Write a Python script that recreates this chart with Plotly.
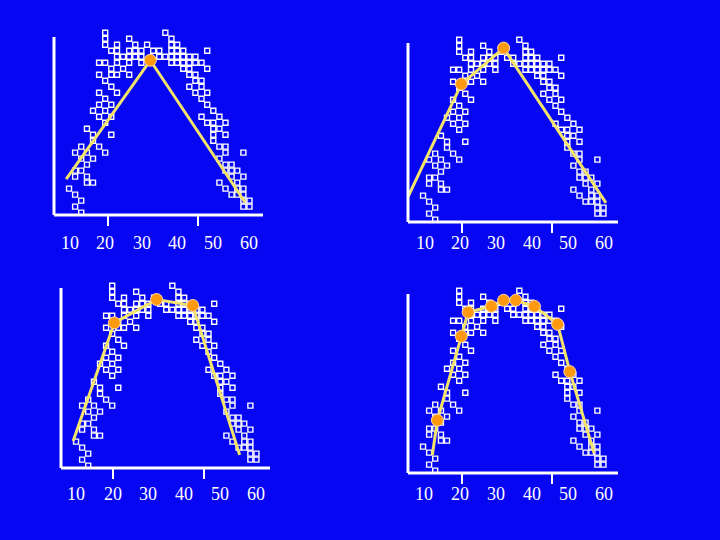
import plotly.graph_objects as go

# scatter data (age, response level) shared by all four panels
rows = {
    30: [19.8, 36.6],
    29: [19.8, 26.5, 38.3],
    28: [19.8, 23.1, 28.2, 31.5, 38.3, 39.9],
    27: [21.5, 23.1, 26.5, 28.2, 29.9, 33.2, 34.9, 38.3, 39.9, 41.6, 48.3],
    26: [23.1, 24.8, 26.5, 28.2, 29.9, 34.9, 36.6, 38.3, 39.9, 41.6, 43.3, 45.0],
    25: [18.1, 19.8, 23.1, 26.5, 29.9, 38.3, 39.9, 41.6, 43.3, 45.0, 46.7],
    24: [21.5, 24.8, 41.6, 43.3, 48.3],
    23: [18.1, 21.5, 23.1, 26.5, 43.3, 45.0],
    22: [19.8, 45.0, 46.7],
    21: [21.5, 43.3, 46.7],
    20: [18.1, 23.1, 45.0, 48.3],
    19: [19.8, 46.7],
    18: [18.1, 21.5, 48.3],
    17: [16.4, 19.8, 50.0],
    16: [18.1, 21.5, 46.7, 51.7],
    15: [19.8, 48.3, 50.0, 53.4],
    14: [14.7, 50.0, 51.7],
    13: [16.4, 21.5, 50.0, 53.4],
    12: [16.4, 50.0],
    11: [13.1, 18.1, 51.7, 53.4],
    10: [11.4, 14.7, 19.8, 53.4, 58.4],
    9: [13.1, 16.4, 51.7],
    8: [14.7, 53.4, 55.1],
    7: [11.4, 13.1, 53.4, 55.1, 56.7],
    6: [11.4, 14.7, 55.1, 58.4],
    5: [14.7, 16.4, 51.7, 56.7],
    4: [9.7, 53.4, 56.7, 58.4],
    3: [11.4, 55.1, 56.7, 58.4],
    2: [13.1, 58.4, 60.1],
    1: [11.4, 58.4, 60.1],
    0: [13.1],
}
point_x = [x for r, xs in rows.items() for x in xs]
point_y = [r for r, xs in rows.items() for x in xs]

fit1_x = [8.9, 32.4, 58.9]
fit1_y = [5.6, 25.4, 1.7]
fit2_x = [5.5, 20.4, 32.2, 60.8]
fit2_y = [3.8, 22.6, 28.6, 2.8]
fit3_x = [8.9, 20.4, 32.2, 42.3, 55.4]
fit3_y = [4.1, 23.8, 27.7, 26.7, 1.8]
fit4_x = [12.3, 13.7, 20.4, 22.3, 28.8, 32.2, 35.6, 40.8, 47.3, 50.7, 57.5]
fit4_y = [2.6, 8.4, 22.4, 26.4, 27.4, 28.4, 28.4, 27.4, 24.4, 16.5, 2.9]
fits = [(fit1_x, fit1_y), (fit2_x, fit2_y), (fit3_x, fit3_y), (fit4_x, fit4_y)]

tick_labels = ["10", "20", "30", "40", "50", "60"]

W, H = 720, 540
BG = "#0606F2"

panels = [
    dict(ax=54, ay=215, right=263, ytop=37, dtop=20, ticks=[108, 198],
         labels=[70, 105, 142, 177, 213, 249], ly=243),
    dict(ax=408, ay=222, right=618, ytop=43, dtop=20, ticks=[462, 552],
         labels=[425, 460, 496, 532, 568, 604], ly=243),
    dict(ax=61, ay=468, right=270, ytop=288, dtop=272, ticks=[113, 204],
         labels=[76, 113, 148, 184, 220, 256], ly=494),
    dict(ax=408, ay=473, right=618, ytop=294, dtop=272, ticks=[462, 552],
         labels=[424, 460, 496, 532, 568, 604], ly=494),
]

def px(x):
    return x / W

def py(y):
    return 1 - y / H

fig = go.Figure()
shapes = []
annotations = []
for i, p in enumerate(panels):
    n = "" if i == 0 else str(i + 1)
    xa, ya = "x" + n, "y" + n
    xmin = 5.5
    xmax = xmin + (p["right"] - p["ax"]) / 3.58
    ymin = -0.39
    ymax = (p["ay"] - 2.3 - p["dtop"]) / 6.0
    fig.update_layout(**{
        "xaxis" + n: dict(domain=[px(p["ax"]), px(p["right"])], range=[xmin, xmax],
                          visible=False, anchor=ya),
        "yaxis" + n: dict(domain=[py(p["ay"]), py(p["dtop"])], range=[ymin, ymax],
                          visible=False, anchor=xa),
    })
    fig.add_trace(go.Scatter(x=point_x, y=point_y, mode="markers", xaxis=xa, yaxis=ya,
                             marker=dict(symbol="square", size=5, color=BG,
                                         line=dict(color="white", width=1.4)),
                             cliponaxis=False, showlegend=False))
    fx, fy = fits[i]
    fig.add_trace(go.Scatter(x=fx, y=fy, mode="lines", xaxis=xa, yaxis=ya,
                             line=dict(color="#F2E46A", width=3),
                             cliponaxis=False, showlegend=False))
    fig.add_trace(go.Scatter(x=fx[1:-1], y=fy[1:-1], mode="markers", xaxis=xa, yaxis=ya,
                             marker=dict(size=12, color="#FF9A10",
                                         line=dict(color="#FFD9A0", width=1)),
                             cliponaxis=False, showlegend=False))
    line = dict(color="white", width=3)
    shapes.append(dict(type="line", xref="paper", yref="paper", x0=px(p["ax"]), x1=px(p["ax"]),
                       y0=py(p["ay"]), y1=py(p["ytop"]), line=line))
    shapes.append(dict(type="line", xref="paper", yref="paper", x0=px(p["ax"]), x1=px(p["right"]),
                       y0=py(p["ay"]), y1=py(p["ay"]), line=line))
    for t in p["ticks"]:
        shapes.append(dict(type="line", xref="paper", yref="paper", x0=px(t), x1=px(t),
                           y0=py(p["ay"]), y1=py(p["ay"] + 11), line=dict(color="white", width=2)))
    for lab, lx in zip(tick_labels, p["labels"]):
        annotations.append(dict(text=lab, x=px(lx), y=py(p["ly"]), xref="paper", yref="paper",
                                showarrow=False, xanchor="center", yanchor="middle",
                                font=dict(family="Liberation Serif", size=18, color="white")))

fig.update_layout(width=W, height=H, margin=dict(l=0, r=0, t=0, b=0),
                  paper_bgcolor=BG, plot_bgcolor=BG, shapes=shapes, annotations=annotations)
fig.write_html("out.html", config={"displayModeBar": False},
               post_script="document.body.style.margin='0';document.body.style.overflow='hidden';document.body.style.background='%s';" % BG)
